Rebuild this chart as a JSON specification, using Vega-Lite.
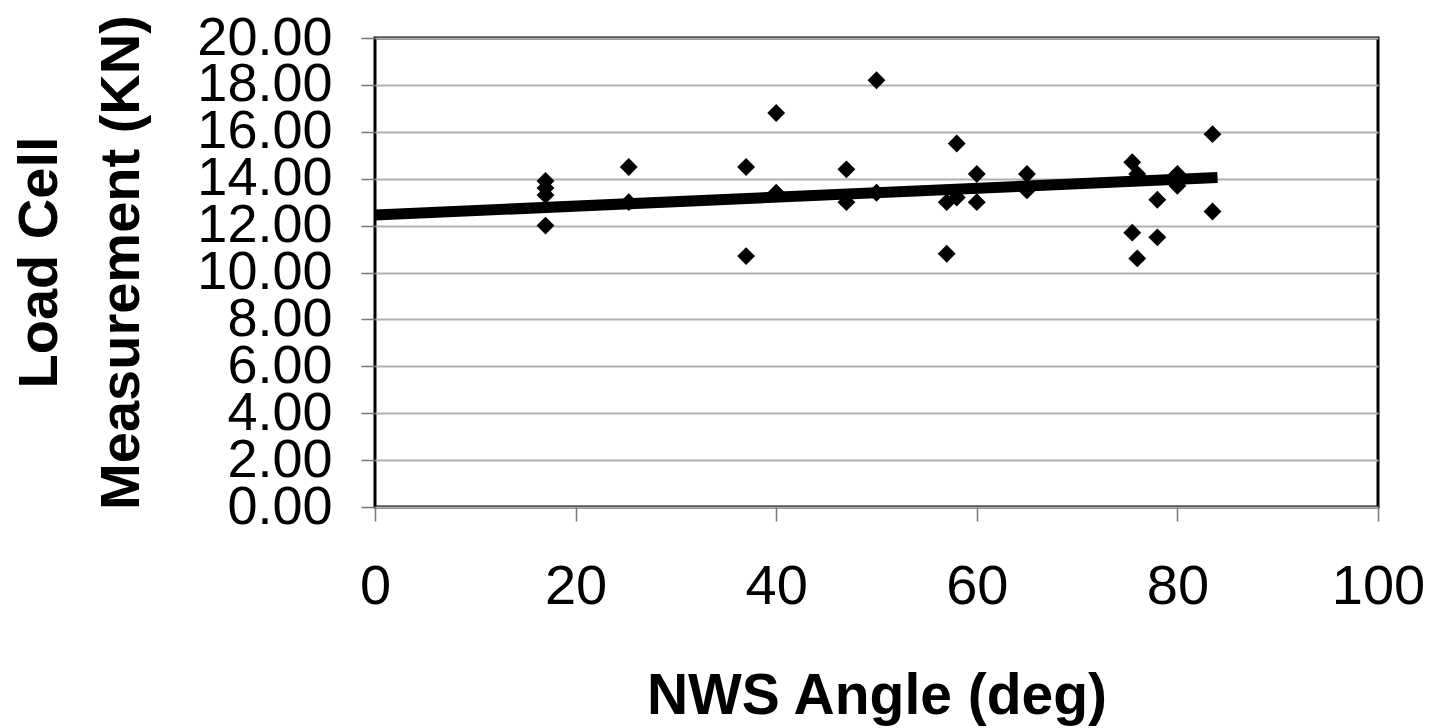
{
  "$schema": "https://vega.github.io/schema/vega-lite/v6.json",
  "autosize": "none",
  "width": 1003,
  "height": 469,
  "padding": {"left": 375, "top": 38, "right": 53, "bottom": 221},
  "background": "white",
  "config": {
    "font": "Liberation Sans",
    "view": {"stroke": "black", "strokeWidth": 3}
  },
  "datasets": {
    "points": [
      {"angle": 17, "load": 13.9}, {"angle": 17, "load": 13.6}, {"angle": 17, "load": 13.3}, {"angle": 17, "load": 12.0},
      {"angle": 25.3, "load": 14.5}, {"angle": 25.3, "load": 13.0},
      {"angle": 37, "load": 14.5}, {"angle": 37, "load": 10.7},
      {"angle": 40, "load": 16.8}, {"angle": 40, "load": 13.4},
      {"angle": 47, "load": 14.4}, {"angle": 47, "load": 13.0},
      {"angle": 50, "load": 18.2}, {"angle": 50, "load": 13.4},
      {"angle": 57, "load": 13.0}, {"angle": 57, "load": 10.8},
      {"angle": 58, "load": 15.5}, {"angle": 58, "load": 13.2},
      {"angle": 60, "load": 14.2}, {"angle": 60, "load": 13.0},
      {"angle": 65, "load": 14.2}, {"angle": 65, "load": 13.5},
      {"angle": 75.5, "load": 14.7}, {"angle": 76, "load": 14.2}, {"angle": 75.5, "load": 11.7}, {"angle": 76, "load": 10.6},
      {"angle": 78, "load": 13.1}, {"angle": 78, "load": 11.5},
      {"angle": 80, "load": 14.2}, {"angle": 80, "load": 13.7},
      {"angle": 83.5, "load": 15.9}, {"angle": 83.5, "load": 12.6}
    ],
    "trend": [
      {"angle": 0, "load": 12.45},
      {"angle": 84, "load": 14.05}
    ]
  },
  "layer": [
    {
      "data": {"name": "trend"},
      "mark": {"type": "line", "color": "black", "strokeWidth": 11, "clip": true},
      "encoding": {
        "x": {"field": "angle", "type": "quantitative"},
        "y": {"field": "load", "type": "quantitative"}
      }
    },
    {
      "data": {"name": "points"},
      "mark": {"type": "point", "shape": "diamond", "filled": true, "color": "black", "opacity": 1, "size": 320},
      "encoding": {
        "x": {
          "field": "angle", "type": "quantitative",
          "scale": {"domain": [0, 100], "nice": false},
          "axis": {
            "values": [0, 20, 40, 60, 80, 100],
            "grid": false,
            "domain": false,
            "tickColor": "#777777",
            "tickSize": 14,
            "tickWidth": 1.5,
            "labelFontSize": 56,
            "labelColor": "black",
            "labelPadding": 38,
            "labelFlush": false,
            "labelOverlap": false,
            "title": "NWS Angle (deg)",
            "titleFontSize": 57,
            "titleFontWeight": "bold",
            "titleColor": "black",
            "titleBaseline": "alphabetic",
            "titleY": 206
          }
        },
        "y": {
          "field": "load", "type": "quantitative",
          "scale": {"domain": [0, 20], "nice": false},
          "axis": {
            "values": [0, 2, 4, 6, 8, 10, 12, 14, 16, 18, 20],
            "format": ".2f",
            "grid": true,
            "gridColor": "#b0b0b0",
            "gridWidth": 2,
            "domain": false,
            "tickColor": "#777777",
            "tickSize": 14,
            "tickWidth": 1.5,
            "labelFontSize": 54,
            "labelColor": "black",
            "labelPadding": 29,
            "labelFlush": false,
            "labelOverlap": false,
            "title": ["Load Cell", "Measurement (KN)"],
            "titleFontSize": 56,
            "titleFontWeight": "bold",
            "titleColor": "black",
            "titleLineHeight": 82,
            "titleAngle": -90,
            "titleAlign": "center",
            "titleBaseline": "bottom",
            "titleX": -307,
            "titleY": 224
          }
        }
      }
    }
  ]
}
